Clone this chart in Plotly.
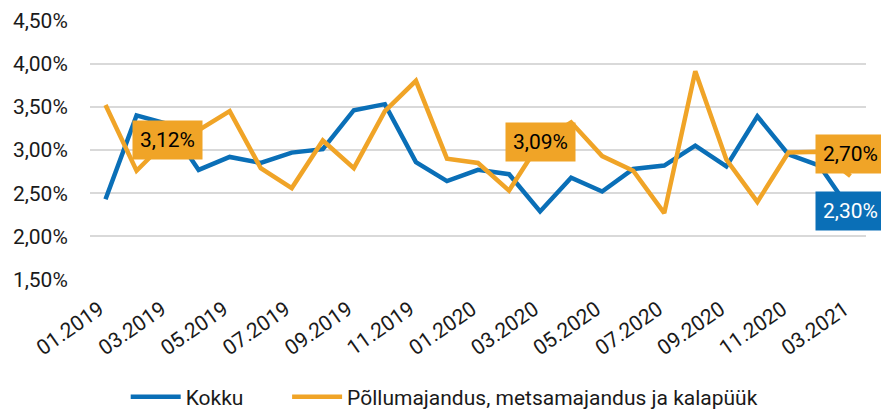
import plotly.graph_objects as go

categories = ["01.2019", "02.2019", "03.2019", "04.2019", "05.2019", "06.2019",
              "07.2019", "08.2019", "09.2019", "10.2019", "11.2019", "12.2019",
              "01.2020", "02.2020", "03.2020", "04.2020", "05.2020", "06.2020",
              "07.2020", "08.2020", "09.2020", "10.2020", "11.2020", "12.2020",
              "03.2021"]
kokku = [2.43, 3.40, 3.30, 2.77, 2.92, 2.85, 2.97, 3.01, 3.46, 3.53, 2.86, 2.64,
         2.77, 2.72, 2.29, 2.68, 2.52, 2.78, 2.82, 3.05, 2.81, 3.39, 2.95, 2.82,
         2.30]
pollumajandus = [3.52, 2.76, 3.12, 3.23, 3.45, 2.79, 2.56, 3.11, 2.79, 3.45, 3.80, 2.90,
                 2.85, 2.53, 3.09, 3.32, 2.93, 2.76, 2.27, 3.91, 2.89, 2.40, 2.97, 2.98,
                 2.70]
y_ticks = [1.5, 2.0, 2.5, 3.0, 3.5, 4.0, 4.5]
y_ticktext = ["1,50%", "2,00%", "2,50%", "3,00%", "3,50%", "4,00%", "4,50%"]
x_tick_idx = list(range(0, len(categories), 2))
x_ticktext = [categories[i] for i in x_tick_idx]

BLUE = "#0A6FB7"
ORANGE = "#F0A427"
FONT = "Roboto"
TXT = "#1a1a1a"

xi = list(range(len(categories)))

fig = go.Figure()
fig.add_trace(go.Scatter(x=xi, y=kokku, mode="lines", name="Kokku",
                         customdata=categories, legend="legend",
                         line=dict(color=BLUE, width=4.5)))
fig.add_trace(go.Scatter(x=xi, y=pollumajandus, mode="lines",
                         name="Põllumajandus, metsamajandus ja kalapüük",
                         customdata=categories, legend="legend2",
                         line=dict(color=ORANGE, width=4.5)))

def fmt(v):
    return f"{v:.2f}%".replace(".", ",")

labels = [
    (2, pollumajandus, ORANGE, "black", 0),
    (14, pollumajandus, ORANGE, "black", 0),
    (24, pollumajandus, ORANGE, "black", 22),
    (24, kokku, BLUE, "white", 0),
]
for i, series, bg, fc, ys in labels:
    fig.add_annotation(x=xi[i], y=series[i], text=fmt(series[i]), showarrow=False,
                       bgcolor=bg, borderpad=7, yshift=ys,
                       font=dict(family=FONT, size=21, color=fc))

leg_common = dict(orientation="h", yanchor="middle", yref="paper", y=-0.45,
                  xanchor="left", xref="paper", bgcolor="rgba(0,0,0,0)",
                  font=dict(family=FONT, size=21, color=TXT), itemwidth=50)
fig.update_layout(
    width=881, height=410,
    margin=dict(l=90, r=15, t=20, b=130, autoexpand=False),
    paper_bgcolor="white", plot_bgcolor="white",
    font=dict(family=FONT, size=21, color=TXT),
    showlegend=True,
    legend=dict(x=0.046, **leg_common),
    legend2=dict(x=0.254, **leg_common),
)
fig.update_xaxes(range=[-0.5, 24.5], tickvals=x_tick_idx,
                 ticktext=x_ticktext, tickangle=-35, showgrid=False,
                 ticks="", ticklabelshift=-6, ticklabelstandoff=12,
                 showline=False, zeroline=False, automargin=False,
                 tickfont=dict(family=FONT, size=21, color=TXT))
fig.update_yaxes(range=[1.497, 4.503], tickvals=y_ticks, ticktext=y_ticktext,
                 showgrid=True, gridcolor="#D9D9D9", gridwidth=2,
                 ticks="outside", ticklen=17, tickcolor="rgba(0,0,0,0)",
                 zeroline=False, showline=False, automargin=False,
                 tickfont=dict(family=FONT, size=21, color=TXT))

fig.write_html("out.html", config={"displayModeBar": False},
               post_script="document.body.style.margin='0';document.body.style.overflow='hidden';")
